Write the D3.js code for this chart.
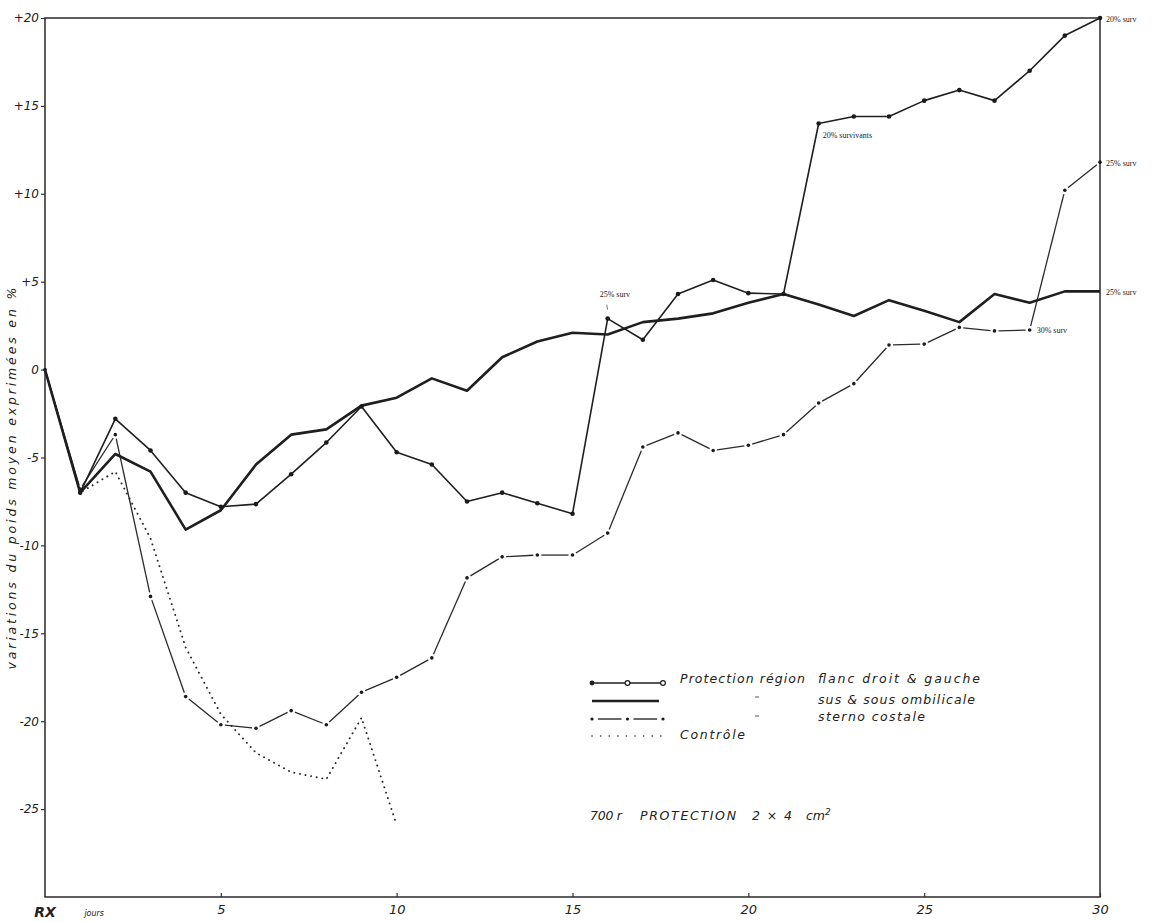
<!DOCTYPE html>
<html>
<head>
<meta charset="utf-8">
<script src="https://cdn.jsdelivr.net/npm/d3@7/dist/d3.min.js"></script>
<style>
  html, body { margin: 0; padding: 0; background: #fff; }
  svg { display: block; }
  text { font-family: "DejaVu Sans", "Liberation Sans", sans-serif; font-style: italic; fill: #222; }
</style>
</head>
<body>
<svg id="chart" width="1168" height="922"></svg>
<script>
// Days after irradiation (RX = day 0)
const days = [0, 1, 2, 3, 4, 5, 6, 7, 8, 9, 10, 11, 12, 13, 14, 15,
              16, 17, 18, 19, 20, 21, 22, 23, 24, 25, 26, 27, 28, 29, 30];
const controlDays = [0, 1, 2, 3, 4, 5, 6, 7, 8, 9, 10];

// Mean weight variation (%) per group
const flancValues = [0, -7.0, -2.8, -4.6, -7.0, -7.8, -7.65, -5.95, -4.15, -2.1,
                     -4.7, -5.4, -7.5, -7.0, -7.6, -8.2, 2.9, 1.7, 4.3, 5.1,
                     4.35, 4.3, 14.0, 14.4, 14.4, 15.3, 15.9, 15.3, 17.0, 19.0, 20.0];
const ombilicaleValues = [0, -7.0, -4.8, -5.8, -9.1, -8.0, -5.4, -3.7, -3.4, -2.05,
                          -1.6, -0.5, -1.2, 0.7, 1.6, 2.1, 2.0, 2.7, 2.9, 3.2,
                          3.8, 4.3, 3.7, 3.05, 3.95, 3.35, 2.7, 4.3, 3.8, 4.45, 4.45];
const sternoValues = [0, -6.8, -3.7, -12.9, -18.6, -20.2, -20.4, -19.4, -20.2, -18.35,
                      -17.5, -16.4, -11.85, -10.65, -10.55, -10.55, -9.3, -4.4, -3.6, -4.6,
                      -4.3, -3.7, -1.9, -0.8, 1.4, 1.45, 2.4, 2.2, 2.25, 10.2, 11.8];
const controleValues = [0, -7.0, -5.8, -9.6, -15.8, -19.6, -21.8, -22.9, -23.3, -19.8, -25.9];

// Axis ticks
const yTickValues = [20, 15, 10, 5, 0, -5, -10, -15, -20, -25];
const yTickLabels = ["+20", "+15", "+10", "+5", "0", "-5", "-10", "-15", "-20", "-25"];
const xTickValues = [5, 10, 15, 20, 25, 30];
const xTickLabels = ["5", "10", "15", "20", "25", "30"];

// Legend entries
const legendLabels = ["Protection région", "sus & sous ombilicale", "sterno costale", "Contrôle"];

// Survival notes attached to points
const survivalNotes = [
  { series: "flanc", day: 16, text: "25% surv" },
  { series: "flanc", day: 22, text: "20% survivants" },
  { series: "flanc", day: 30, text: "20% surv" },
  { series: "sterno", day: 30, text: "25% surv" },
  { series: "ombilicale", day: 30, text: "25% surv" },
  { series: "sterno", day: 28, text: "30% surv" }
];

const seriesByName = {
  flanc: flancValues,
  ombilicale: ombilicaleValues,
  sterno: sternoValues
};

const svg = d3.select("#chart");
const ink = "#1f1f1f";

const x = d3.scaleLinear().domain([0, 30]).range([45, 1100]);
const y = d3.scaleLinear().domain([-30, 20]).range([897, 18]);

// Frame
svg.append("rect")
  .attr("x", x(0)).attr("y", y(20))
  .attr("width", x(30) - x(0)).attr("height", y(-30) - y(20))
  .attr("fill", "none").attr("stroke", "#2a2a2a").attr("stroke-width", 1.5);

// Y axis
const yAxis = svg.append("g")
  .attr("transform", `translate(${x(0)},0)`)
  .call(d3.axisLeft(y).tickValues(yTickValues)
    .tickSize(4).tickPadding(2)
    .tickFormat((d, i) => yTickLabels[i]));
yAxis.select(".domain").remove();
yAxis.selectAll(".tick line").attr("stroke", "#333").attr("stroke-width", 1.2);
yAxis.selectAll(".tick text")
  .style("font-size", "12px").style("font-family", "DejaVu Sans, sans-serif")
  .style("font-style", "italic").attr("fill", "#222");

// X axis
const xAxis = svg.append("g")
  .attr("transform", `translate(0,${y(-30)})`)
  .call(d3.axisBottom(x).tickValues(xTickValues)
    .tickSize(-4).tickPadding(8)
    .tickFormat((d, i) => xTickLabels[i]));
xAxis.select(".domain").remove();
xAxis.selectAll(".tick line").attr("stroke", "#333").attr("stroke-width", 1.2);
xAxis.selectAll(".tick text")
  .style("font-size", "13px").style("font-family", "DejaVu Sans, sans-serif")
  .style("font-style", "italic").attr("fill", "#222");

svg.append("text")
  .attr("x", x(0)).attr("y", y(-30) + 20)
  .attr("text-anchor", "middle")
  .style("font-size", "14px").style("font-weight", "bold")
  .text("RX");
svg.append("text")
  .attr("x", x(1.4)).attr("y", y(-30) + 19)
  .attr("text-anchor", "middle")
  .style("font-size", "8px").attr("fill", "#777")
  .text("jours");

// Y title
svg.append("text")
  .attr("transform", `translate(16,${y(-6.2)}) rotate(-90)`)
  .attr("text-anchor", "middle")
  .attr("textLength", 382).attr("lengthAdjust", "spacing")
  .style("font-size", "12.5px")
  .text("variations du poids moyen exprimées en %");

const pts = (xs, vs) => xs.map((d, i) => [x(d), y(vs[i])]);
const line = d3.line();

// Contrôle: dotted
svg.append("path")
  .attr("d", line(pts(controlDays, controleValues)))
  .attr("fill", "none").attr("stroke", "#2a2a2a")
  .attr("stroke-width", 1.9).attr("stroke-linecap", "round")
  .attr("stroke-dasharray", "0.1 5.6");

// Sterno costale: dash segments broken around each point
function dashDotSeries(g, xs, vs, gap) {
  const p = pts(xs, vs);
  for (let i = 0; i < p.length - 1; i++) {
    const [x1, y1] = p[i], [x2, y2] = p[i + 1];
    const len = Math.hypot(x2 - x1, y2 - y1);
    if (len <= 2 * gap) continue;
    const ux = (x2 - x1) / len, uy = (y2 - y1) / len;
    g.append("line")
      .attr("x1", x1 + ux * gap).attr("y1", y1 + uy * gap)
      .attr("x2", x2 - ux * gap).attr("y2", y2 - uy * gap)
      .attr("stroke", "#2a2a2a").attr("stroke-width", 1.3);
  }
  g.selectAll("circle.pt").data(p).join("circle")
    .attr("class", "pt")
    .attr("cx", d => d[0]).attr("cy", d => d[1]).attr("r", 1.8)
    .attr("fill", "#1a1a1a");
}
dashDotSeries(svg.append("g"), days, sternoValues, 4);

// Sus & sous ombilicale: heavy solid line
svg.append("path")
  .attr("d", line(pts(days, ombilicaleValues)))
  .attr("fill", "none").attr("stroke", ink)
  .attr("stroke-width", 2.6).attr("stroke-linejoin", "round");

// Flanc droit & gauche: thin line with point markers
svg.append("path")
  .attr("d", line(pts(days, flancValues)))
  .attr("fill", "none").attr("stroke", ink)
  .attr("stroke-width", 1.6).attr("stroke-linejoin", "round");
svg.append("g").selectAll("circle")
  .data(pts(days, flancValues).slice(1))
  .join("circle")
  .attr("cx", d => d[0]).attr("cy", d => d[1]).attr("r", 2.3)
  .attr("fill", "#1a1a1a");

// Survival notes
const noteOffsets = [[-8, -22], [4, 15], [6, 4], [6, 4], [6, 4], [7, 3]];
survivalNotes.forEach((n, i) => {
  const v = seriesByName[n.series][days.indexOf(n.day)];
  const px = x(n.day), py = y(v);
  svg.append("text")
    .attr("x", px + noteOffsets[i][0]).attr("y", py + noteOffsets[i][1])
    .style("font-size", "8px").style("font-style", "normal")
    .style("font-family", "Liberation Serif, serif")
    .attr("fill", "#666")
    .text(n.text);
});
// small pointer under the first note
svg.append("line")
  .attr("x1", x(16) - 1).attr("y1", y(2.9) - 14)
  .attr("x2", x(16)).attr("y2", y(2.9) - 9)
  .attr("stroke", "#777").attr("stroke-width", 1);

// Legend
const lg = svg.append("g");
const lx0 = 592, lx1 = 663, lxm = (lx0 + lx1) / 2;
const rowY = [683, 701, 719, 736];

lg.append("line").attr("x1", lx0).attr("x2", lx1).attr("y1", rowY[0]).attr("y2", rowY[0])
  .attr("stroke", ink).attr("stroke-width", 1.6);
lg.append("circle").attr("cx", lx0).attr("cy", rowY[0]).attr("r", 2.4).attr("fill", ink);
[lxm, lx1].forEach(cx => lg.append("circle").attr("cx", cx).attr("cy", rowY[0]).attr("r", 2.4)
  .attr("fill", "#fff").attr("stroke", ink).attr("stroke-width", 1.2));

lg.append("line").attr("x1", lx0).attr("x2", lx1 - 4).attr("y1", rowY[1]).attr("y2", rowY[1])
  .attr("stroke", ink).attr("stroke-width", 2.6);

[[lx0, lxm], [lxm, lx1]].forEach(([a, b]) => lg.append("line")
  .attr("x1", a + 6).attr("x2", b - 6).attr("y1", rowY[2]).attr("y2", rowY[2])
  .attr("stroke", "#2a2a2a").attr("stroke-width", 1.4));
[lx0, lxm, lx1].forEach(cx => lg.append("circle").attr("cx", cx).attr("cy", rowY[2])
  .attr("r", 1.6).attr("fill", "#1a1a1a"));

lg.append("line").attr("x1", lx0).attr("x2", lx1).attr("y1", rowY[3]).attr("y2", rowY[3])
  .attr("stroke", "#333").attr("stroke-width", 1.6).attr("stroke-linecap", "round")
  .attr("stroke-dasharray", "0.1 8.5");

const legendFont = "12.5px";
lg.append("text").attr("x", 680).attr("y", 683).attr("textLength", 125).attr("lengthAdjust", "spacing")
  .style("font-size", legendFont).text(legendLabels[0]);
lg.append("text").attr("x", 818).attr("y", 683).attr("textLength", 162).attr("lengthAdjust", "spacing")
  .style("font-size", legendFont).text("flanc droit & gauche");
lg.append("text").attr("x", 818).attr("y", 704).attr("textLength", 157).attr("lengthAdjust", "spacing")
  .style("font-size", legendFont).text(legendLabels[1]);
lg.append("text").attr("x", 818).attr("y", 721).attr("textLength", 107).attr("lengthAdjust", "spacing")
  .style("font-size", legendFont).text(legendLabels[2]);
lg.append("text").attr("x", 680).attr("y", 739).attr("textLength", 65).attr("lengthAdjust", "spacing")
  .style("font-size", legendFont).text(legendLabels[3]);
// ditto marks
[697, 716].forEach(yy => lg.append("line").attr("x1", 755).attr("x2", 759)
  .attr("y1", yy).attr("y2", yy).attr("stroke", "#555").attr("stroke-width", 1));

// Dose note
const note = svg.append("g").style("font-size", "12.5px");
note.append("text").attr("x", 590).attr("y", 820).attr("textLength", 32).attr("lengthAdjust", "spacing").text("700 r");
note.append("text").attr("x", 640).attr("y", 820).attr("textLength", 96).attr("lengthAdjust", "spacing").text("PROTECTION");
note.append("text").attr("x", 752).attr("y", 820).attr("textLength", 40).attr("lengthAdjust", "spacing").text("2 × 4");
note.append("text").attr("x", 806).attr("y", 820).text("cm")
  .append("tspan").attr("dy", -5).style("font-size", "9px").text("2");
</script>
</body>
</html>
